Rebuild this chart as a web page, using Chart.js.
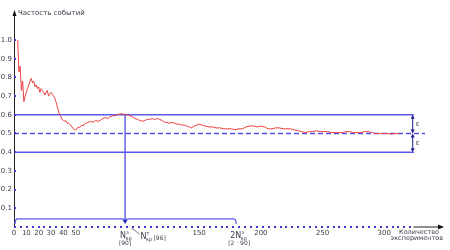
<!DOCTYPE html>
<html>
<head>
<meta charset="utf-8">
<script src="https://cdn.jsdelivr.net/npm/chart.js@4"></script>
<style>
  html, body { margin: 0; padding: 0; background: #fff; }
  #wrap { width: 450px; height: 250px; }
</style>
</head>
<body>
<div id="wrap"><canvas id="chart-1"></canvas></div>
<script>
const trialN = [3, 4, 5, 6, 7, 8, 9, 10, 11, 12, 13, 14, 15, 16, 17, 18, 19, 20, 21, 22, 23, 24, 25, 26, 27, 28, 29, 30,
  31, 32, 33, 34, 35, 36, 37, 38, 39, 40, 41, 42, 43, 44, 45, 46, 47, 48, 49, 50, 51, 52, 53, 54, 55, 56, 57, 58, 59, 60,
  62, 64, 66, 68, 70, 72, 74, 76, 78, 80, 82, 84, 86, 88, 90, 92, 94, 96, 98, 100, 102, 104, 106, 108, 110, 112, 114,
  116, 118, 120, 122, 124, 126, 128, 130, 132, 134, 136, 138, 140, 142, 144, 146, 148, 150, 152, 155, 158, 161, 164,
  167, 170, 173, 176, 179, 182, 185, 188, 191, 194, 197, 200, 203, 206, 209, 212, 215, 218, 221, 224, 227, 230, 233,
  236, 239, 242, 245, 248, 251, 254, 257, 260, 263, 266, 269, 272, 275, 278, 281, 284, 287, 290, 293, 296, 299, 302,
  305, 308, 311, 312];
const freq = [1.0, 0.83, 0.86, 0.73, 0.78, 0.67, 0.70, 0.72, 0.74, 0.76, 0.78, 0.795, 0.77, 0.78, 0.75, 0.76, 0.74, 0.75,
  0.72, 0.74, 0.73, 0.72, 0.705, 0.72, 0.73, 0.70, 0.71, 0.72, 0.71, 0.70, 0.69, 0.67, 0.645, 0.62, 0.60, 0.59, 0.575,
  0.57, 0.565, 0.57, 0.555, 0.555, 0.55, 0.545, 0.535, 0.525, 0.52, 0.52, 0.525, 0.535, 0.53, 0.54, 0.545, 0.54, 0.55,
  0.555, 0.555, 0.56, 0.565, 0.56, 0.57, 0.565, 0.57, 0.58, 0.585, 0.58, 0.59, 0.595, 0.595, 0.60, 0.605, 0.605, 0.60,
  0.60, 0.595, 0.59, 0.58, 0.575, 0.57, 0.565, 0.57, 0.575, 0.575, 0.58, 0.575, 0.58, 0.575, 0.57, 0.56, 0.56, 0.555,
  0.56, 0.555, 0.55, 0.55, 0.545, 0.545, 0.54, 0.535, 0.53, 0.54, 0.545, 0.55, 0.545, 0.54, 0.535, 0.535, 0.53, 0.53,
  0.525, 0.525, 0.525, 0.52, 0.525, 0.525, 0.535, 0.54, 0.54, 0.535, 0.54, 0.535, 0.525, 0.525, 0.53, 0.53, 0.525,
  0.525, 0.525, 0.52, 0.515, 0.51, 0.505, 0.51, 0.51, 0.515, 0.51, 0.51, 0.51, 0.505, 0.505, 0.505, 0.505, 0.51, 0.51,
  0.505, 0.505, 0.505, 0.51, 0.51, 0.505, 0.50, 0.50, 0.50, 0.50, 0.497, 0.50, 0.50, 0.50];

const xTicks = [0, 10, 20, 30, 40, 50, 150, 200, 250, 300];
const yTicks = [0.1, 0.2, 0.3, 0.4, 0.5, 0.6, 0.7, 0.8, 0.9, 1.0];

const pTrue = 0.5;       // probability
const eps = 0.1;         // band half width
const nCrit = 90;        // N^э_кр
const nCritTheory = 96;  // N^т_кр
const bandEnd = 324;
const dashEnd = 333;

const blue = "#5a5af0";
const dark = "#3c3c4c";
const font = "'DejaVu Sans', Verdana, sans-serif";

// N with super/subscript
function critLabel(ctx, x, y, pre, sup, post) {
  ctx.textAlign = "left";
  ctx.textBaseline = "alphabetic";
  ctx.font = "8px " + font;
  let w = ctx.measureText(pre + "N").width;
  ctx.fillText(pre + "N", x, y);
  ctx.font = "5px " + font;
  ctx.fillText(sup, x + w, y - 4);
  ctx.fillText("кр", x + w - 0.5, y + 2);
  if (post) {
    ctx.font = "6px " + font;
    ctx.fillText(post, x + w + 7, y + 1);
  }
}

const decor = {
  id: "decor",
  afterDatasetsDraw(chart) {
    const { ctx, scales: { x, y } } = chart;
    const x0 = x.getPixelForValue(0), y0 = y.getPixelForValue(0);
    ctx.save();

    // y axis + arrow
    ctx.strokeStyle = "#222";
    ctx.lineWidth = 1;
    ctx.beginPath();
    ctx.moveTo(x0 + 0.5, y0);
    ctx.lineTo(x0 + 0.5, chart.chartArea.top + 2);
    ctx.stroke();
    ctx.fillStyle = "#111";
    ctx.beginPath();
    ctx.moveTo(x0 + 0.5, chart.chartArea.top - 1);
    ctx.lineTo(x0 - 1.5, chart.chartArea.top + 5);
    ctx.lineTo(x0 + 2.5, chart.chartArea.top + 5);
    ctx.fill();

    // y tick dots
    ctx.fillStyle = "#3a3ad0";
    yTicks.forEach(v => {
      ctx.fillRect(x0, Math.round(y.getPixelForValue(v)) - 1, 2, 2);
    });

    // x axis: dotted then solid with arrow
    const xDotEnd = x.getPixelForValue(322);
    const xArrow = chart.chartArea.right - 4;
    ctx.fillStyle = "#3a3ad0";
    for (let px = x0; px <= xDotEnd; px += 5.9) {
      ctx.fillRect(Math.round(px), Math.round(y0) - 1, 2, 2);
    }
    ctx.strokeStyle = "#222";
    ctx.beginPath();
    ctx.moveTo(xDotEnd + 2, Math.round(y0) + 0);
    ctx.lineTo(xArrow - 3, Math.round(y0) + 0);
    ctx.stroke();
    ctx.fillStyle = "#111";
    ctx.beginPath();
    ctx.moveTo(xArrow + 2, Math.round(y0));
    ctx.lineTo(xArrow - 4, Math.round(y0) - 2.5);
    ctx.lineTo(xArrow - 4, Math.round(y0) + 2.5);
    ctx.fill();

    // braces above the axis
    const yb = y.getPixelForValue(0.043);
    const xa = x.getPixelForValue(nCrit), xb = x.getPixelForValue(2 * nCrit);
    ctx.strokeStyle = blue;
    ctx.lineWidth = 1.3;
    ctx.beginPath();
    ctx.moveTo(x0 + 1, yb + 5);
    ctx.quadraticCurveTo(x0 + 1, yb, x0 + 4, yb);
    ctx.lineTo(xa - 3, yb);
    ctx.quadraticCurveTo(xa, yb, xa, yb + 3);
    ctx.quadraticCurveTo(xa, yb, xa + 3, yb);
    ctx.lineTo(xb - 3, yb);
    ctx.quadraticCurveTo(xb, yb, xb, yb + 5);
    ctx.stroke();

    // arrowhead of the vertical line
    ctx.fillStyle = "#2a2ab0";
    ctx.beginPath();
    ctx.moveTo(xa, yb + 5);
    ctx.lineTo(xa - 2.5, yb + 1);
    ctx.lineTo(xa + 2.5, yb + 1);
    ctx.fill();

    // epsilon arrows
    const xe = x.getPixelForValue(bandEnd - 1);
    const yHi = y.getPixelForValue(pTrue + eps), yMid = y.getPixelForValue(pTrue), yLo = y.getPixelForValue(pTrue - eps);
    ctx.strokeStyle = "#1e1e90";
    ctx.fillStyle = "#1e1e90";
    ctx.lineWidth = 1;
    [[yHi, yMid], [yMid, yLo]].forEach(([a, b]) => {
      ctx.beginPath();
      ctx.moveTo(xe, a + 2);
      ctx.lineTo(xe, b - 2);
      ctx.stroke();
      ctx.beginPath();
      ctx.moveTo(xe, a); ctx.lineTo(xe - 2, a + 4); ctx.lineTo(xe + 2, a + 4); ctx.fill();
      ctx.beginPath();
      ctx.moveTo(xe, b); ctx.lineTo(xe - 2, b - 4); ctx.lineTo(xe + 2, b - 4); ctx.fill();
    });
    ctx.fillStyle = "#555";
    ctx.font = "7px " + font;
    ctx.textAlign = "left";
    ctx.textBaseline = "middle";
    ctx.fillText("ε", xe + 3, (yHi + yMid) / 2);
    ctx.fillText("ε", xe + 3, (yMid + yLo) / 2);

    // labels under the axis
    ctx.fillStyle = dark;
    critLabel(ctx, xa - 5, y0 + 11, "", "э", "");
    ctx.font = "6px " + font;
    ctx.textAlign = "center";
    ctx.textBaseline = "middle";
    ctx.fillText("[90]", xa, y0 + 16);

    const xt = x.getPixelForValue(nCritTheory);
    ctx.strokeStyle = "#555";
    ctx.lineWidth = 0.8;
    ctx.beginPath();
    ctx.moveTo(xt - 1, y0 + 1);
    ctx.lineTo(xt + 7, y0 + 7);
    ctx.stroke();
    critLabel(ctx, xt + 8, y0 + 12, "", "т", "[96]");

    critLabel(ctx, xb - 6, y0 + 11, "2", "э", "");
    ctx.font = "6px " + font;
    ctx.textAlign = "center";
    ctx.textBaseline = "middle";
    ctx.fillText("[2 · 90]", xb + 3, y0 + 16);

    // axis titles
    ctx.font = "7px " + font;
    ctx.textAlign = "left";
    ctx.fillStyle = dark;
    ctx.fillText("Частость событий", x0 + 4, 13);
    ctx.font = "6.5px " + font;
    ctx.textAlign = "right";
    ctx.fillText("Количество", 439, y0 + 5);
    ctx.fillText("экспериментов", 443, y0 + 11);

    ctx.restore();
  }
};

const chart1 = new Chart(document.getElementById("chart-1"), {
  type: "line",
  data: {
    datasets: [
      {
        data: trialN.map((n, i) => ({ x: n, y: freq[i] })),
        borderColor: "#ec4040",
        borderWidth: 1,
        pointRadius: 0,
        tension: 0,
      },
      {
        data: [{ x: 0, y: pTrue + eps }, { x: bandEnd, y: pTrue + eps }],
        borderColor: blue, borderWidth: 1.5, pointRadius: 0,
      },
      {
        data: [{ x: 0, y: pTrue - eps }, { x: bandEnd, y: pTrue - eps }],
        borderColor: blue, borderWidth: 1.5, pointRadius: 0,
      },
      {
        data: [{ x: 0, y: pTrue }, { x: dashEnd, y: pTrue }],
        borderColor: "#5050f0", borderWidth: 1.3, borderDash: [5, 3], pointRadius: 0,
      },
      {
        data: [{ x: nCrit, y: pTrue + eps }, { x: nCrit, y: 0.035 }],
        borderColor: "#3c3ce0", borderWidth: 1.2, pointRadius: 0,
      },
    ],
  },
  options: {
    responsive: true,
    maintainAspectRatio: false,
    animation: false,
    layout: { padding: { top: 11, right: 4, bottom: 0, left: 0 } },
    plugins: { legend: { display: false }, tooltip: { enabled: false } },
    scales: {
      x: {
        type: "linear",
        min: 0,
        max: 350,
        grid: { display: false, drawTicks: false },
        border: { display: false },
        afterBuildTicks: s => { s.ticks = xTicks.map(v => ({ value: v })); },
        afterFit: s => { s.height = 23; },
        ticks: { autoSkip: false, maxRotation: 0, padding: 2, color: dark, font: { size: 7, family: font } },
      },
      y: {
        min: 0,
        max: 1.155,
        grid: { display: false, drawTicks: false },
        border: { display: false },
        afterBuildTicks: s => { s.ticks = yTicks.map(v => ({ value: v })); },
        afterFit: s => { s.width = 14; },
        ticks: { padding: 2, color: dark, font: { size: 7, family: font }, callback: v => v.toFixed(1) },
      },
    },
  },
  plugins: [decor],
});
</script>
</body>
</html>
